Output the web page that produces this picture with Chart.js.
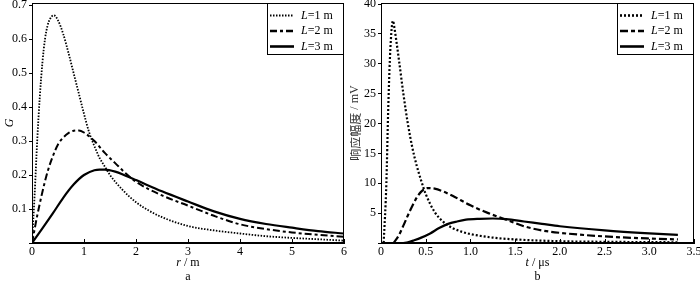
<!DOCTYPE html>
<html>
<head>
<meta charset="utf-8">
<script src="https://cdn.jsdelivr.net/npm/chart.js@4"></script>
<style>
  body { margin: 0; background: #fff; }
  #wrap { display: flex; width: 700px; height: 282px; }
  canvas { display: block; }
</style>
</head>
<body>
<div id="wrap">
  <canvas id="chartG" width="350" height="282"></canvas>
  <canvas id="chartV" width="350" height="282"></canvas>
</div>
<script>
// panel a: G vs r
const rL1 = [0, 0.05, 0.1, 0.15, 0.2, 0.25, 0.3, 0.35, 0.42, 0.5, 0.6, 0.7, 0.8, 0.9, 1.0, 1.1, 1.2, 1.3, 1.4, 1.5, 1.75, 2.0, 2.25, 2.5, 3.0, 3.5, 4.0, 4.5, 5.0, 5.5, 6.0];
const gL1 = [0, 0.14, 0.30, 0.43, 0.53, 0.60, 0.64, 0.66, 0.67, 0.655, 0.615, 0.56, 0.50, 0.44, 0.38, 0.325, 0.285, 0.25, 0.225, 0.2, 0.155, 0.12, 0.095, 0.076, 0.05, 0.037, 0.028, 0.02, 0.015, 0.011, 0.007];
const rL2 = [0, 0.1, 0.2, 0.3, 0.4, 0.5, 0.6, 0.7, 0.8, 0.9, 1.0, 1.2, 1.4, 1.6, 1.8, 2.0, 2.5, 3.0, 3.5, 4.0, 4.5, 5.0, 5.5, 6.0];
const gL2 = [0, 0.08, 0.15, 0.21, 0.255, 0.29, 0.31, 0.323, 0.33, 0.331, 0.325, 0.3, 0.265, 0.235, 0.205, 0.18, 0.14, 0.11, 0.08, 0.055, 0.041, 0.031, 0.024, 0.018];
const rL3 = [0, 0.2, 0.4, 0.6, 0.8, 1.0, 1.2, 1.3, 1.4, 1.6, 1.8, 2.0, 2.5, 3.0, 3.5, 4.0, 4.5, 5.0, 5.5, 6.0];
const gL3 = [0, 0.043, 0.087, 0.133, 0.172, 0.2, 0.214, 0.216, 0.216, 0.21, 0.198, 0.185, 0.152, 0.122, 0.093, 0.071, 0.056, 0.045, 0.035, 0.028];

// panel b: response amplitude vs t
const tL1 = [0.03, 0.06, 0.08, 0.1, 0.12, 0.134, 0.15, 0.2, 0.25, 0.3, 0.35, 0.4, 0.45, 0.5, 0.6, 0.7, 0.8, 0.9, 1.0, 1.25, 1.5, 2.0, 2.5, 3.0, 3.32];
const vL1 = [0, 10, 22, 31, 36, 37.2, 36, 30.7, 25, 20, 16, 12.9, 10.4, 8.2, 5.2, 3.5, 2.5, 1.9, 1.5, 0.9, 0.6, 0.3, 0.2, 0.15, 0.12];
const tL2 = [0.14, 0.2, 0.25, 0.3, 0.35, 0.4, 0.45, 0.52, 0.6, 0.7, 0.8, 1.0, 1.2, 1.4, 1.6, 1.8, 2.0, 2.5, 3.0, 3.32];
const vL2 = [0, 1.3, 2.9, 4.6, 6.2, 7.6, 8.6, 9.2, 9.1, 8.6, 7.9, 6.3, 5.0, 3.9, 2.8, 2.1, 1.7, 1.1, 0.75, 0.6];
const tL3 = [0.25, 0.3, 0.36, 0.45, 0.55, 0.65, 0.75, 0.85, 0.95, 1.1, 1.25, 1.4, 1.6, 1.8, 2.0, 2.5, 3.0, 3.32];
const vL3 = [0, 0.1, 0.4, 0.9, 1.6, 2.5, 3.2, 3.6, 3.9, 4.05, 4.1, 4.0, 3.6, 3.2, 2.8, 2.1, 1.6, 1.35];

const seriesLabels = ['L=1 m', 'L=2 m', 'L=3 m'];
const yTicksA = [0, 0.1, 0.2, 0.3, 0.4, 0.5, 0.6, 0.7];
const yTicksB = [0, 5, 10, 15, 20, 25, 30, 35, 40];

const SERIF = '"Liberation Serif", "Times New Roman", serif';
const CJK = '"Noto Sans CJK SC", sans-serif';

const toXY = (xs, ys) => xs.map((x, i) => ({ x, y: ys[i] }));

// draws text made of pieces: [text, italic, family]
function drawMixed(ctx, parts, x, y, align) {
  const fontOf = p => (p[1] ? 'italic ' : '') + '12px ' + (p[2] || SERIF);
  let total = 0;
  parts.forEach(p => { ctx.font = fontOf(p); total += ctx.measureText(p[0]).width; });
  let cx = align === 'center' ? x - total / 2 : x;
  ctx.textAlign = 'left';
  parts.forEach(p => {
    ctx.font = fontOf(p);
    ctx.fillText(p[0], cx, y);
    cx += ctx.measureText(p[0]).width;
  });
}

// frame, inward x ticks, boxed legend, axis titles
const framePlugin = {
  id: 'frame',
  afterDraw(chart, args, opts) {
    const { ctx, chartArea: a, scales } = chart;
    ctx.save();
    ctx.strokeStyle = '#000';
    ctx.fillStyle = '#000';
    ctx.lineWidth = 1;
    ctx.strokeRect(a.left + 0.5, a.top + 0.5, a.right - a.left - 1, a.bottom - a.top - 1);

    scales.x.ticks.forEach(t => {
      const px = Math.round(scales.x.getPixelForValue(t.value)) + 0.5;
      ctx.beginPath();
      ctx.moveTo(px, a.bottom);
      ctx.lineTo(px, a.bottom - 4);
      ctx.stroke();
    });

    // legend
    const bw = 77, bh = 51, bx = a.right - bw, by = a.top;
    ctx.fillStyle = '#fff';
    ctx.fillRect(bx, by, bw, bh);
    ctx.strokeRect(bx + 0.5, by + 0.5, bw - 1, bh);
    chart.data.datasets.forEach((ds, i) => {
      const y = by + 12.5 + i * 15.5;
      ctx.setLineDash(ds.borderDash || []);
      ctx.lineWidth = ds.borderWidth + 0.4;
      ctx.beginPath();
      ctx.moveTo(bx + 3, y);
      ctx.lineTo(bx + 27, y);
      ctx.stroke();
      ctx.setLineDash([]);
      ctx.fillStyle = '#000';
      ctx.textBaseline = 'middle';
      drawMixed(ctx, [[ds.label.slice(0, 1), true], [ds.label.slice(1), false]], bx + 34, y, 'left');
    });

    // titles
    ctx.fillStyle = '#000';
    ctx.textBaseline = 'middle';
    const cx = (a.left + a.right) / 2;
    drawMixed(ctx, opts.xTitle, cx, 263, 'center');
    drawMixed(ctx, [[opts.letter, false]], cx, 277, 'center');
    ctx.translate(opts.yTitleX, (a.top + a.bottom) / 2);
    ctx.rotate(-Math.PI / 2);
    ctx.fillStyle = opts.yColor || '#000';
    drawMixed(ctx, opts.yTitle, 0, 0, 'center');
    ctx.restore();
  }
};

function lineSet(label, data, dash, width) {
  return {
    label, data,
    borderColor: '#000',
    borderWidth: width,
    borderDash: dash,
    pointRadius: 0,
    fill: false,
    cubicInterpolationMode: 'monotone'
  };
}

function makeChart(id, datasets, xcfg, ycfg, yWidth, titles) {
  const tickFont = { family: SERIF, size: 12 };
  return new Chart(document.getElementById(id), {
    type: 'line',
    data: { datasets },
    plugins: [framePlugin],
    options: {
      responsive: false,
      animation: false,
      layout: { padding: { top: 3, right: 6, left: 0, bottom: 0 } },
      plugins: {
        legend: { display: false },
        tooltip: { enabled: false },
        frame: titles
      },
      scales: {
        x: {
          type: 'linear',
          min: xcfg.min, max: xcfg.max,
          afterFit(s) { s.height = 39; s.paddingLeft = 0; s.paddingRight = 0; },
          border: { display: true, color: '#000', width: 1 },
          grid: { display: false, drawTicks: false },
          ticks: {
            stepSize: xcfg.step, padding: 2, color: '#000', font: tickFont,
            maxRotation: 0, autoSkip: false, callback: xcfg.fmt
          }
        },
        y: {
          min: 0, max: ycfg.top,
          afterBuildTicks(s) { s.ticks = ycfg.ticks.map(value => ({ value })); },
          afterFit(s) { s.width = yWidth; s.paddingTop = 0; s.paddingBottom = 0; },
          border: { display: true, color: '#000', width: 1 },
          grid: { drawOnChartArea: false, drawTicks: true, tickLength: 3, color: '#000' },
          ticks: {
            padding: 2, color: '#000', font: tickFont, autoSkip: false,
            callback: v => v === 0 ? '' : ycfg.fmt(v)
          }
        }
      }
    }
  });
}

makeChart('chartG', [
  lineSet(seriesLabels[0], toXY(rL1, gL1), [1.5, 1.5], 1.8),
  lineSet(seriesLabels[1], toXY(rL2, gL2), [7, 3, 3, 3], 2),
  lineSet(seriesLabels[2], toXY(rL3, gL3), [], 2.2)
], { min: 0, max: 6, step: 1, fmt: v => String(v) },
   { top: 0.706, ticks: yTicksA, fmt: v => v.toFixed(1) },
   32,
   { xTitle: [['r', true], [' / m', false]], letter: 'a', yTitle: [['G', true]], yTitleX: 10 });

makeChart('chartV', [
  lineSet(seriesLabels[0], toXY(tL1, vL1), [2, 2], 2.2),
  lineSet(seriesLabels[1], toXY(tL2, vL2), [8, 3, 4, 3], 2.2),
  lineSet(seriesLabels[2], toXY(tL3, vL3), [], 2.2)
], { min: 0, max: 3.5, step: 0.5, fmt: v => v === 0 ? '0' : v.toFixed(1) },
   { top: 40.17, ticks: yTicksB, fmt: v => String(v) },
   31,
   { xTitle: [['t', true], [' / μs', false]], letter: 'b', yTitle: [['响应幅度', false, CJK], [' / mV', false]], yTitleX: 5, yColor: '#333' });
</script>
</body>
</html>
